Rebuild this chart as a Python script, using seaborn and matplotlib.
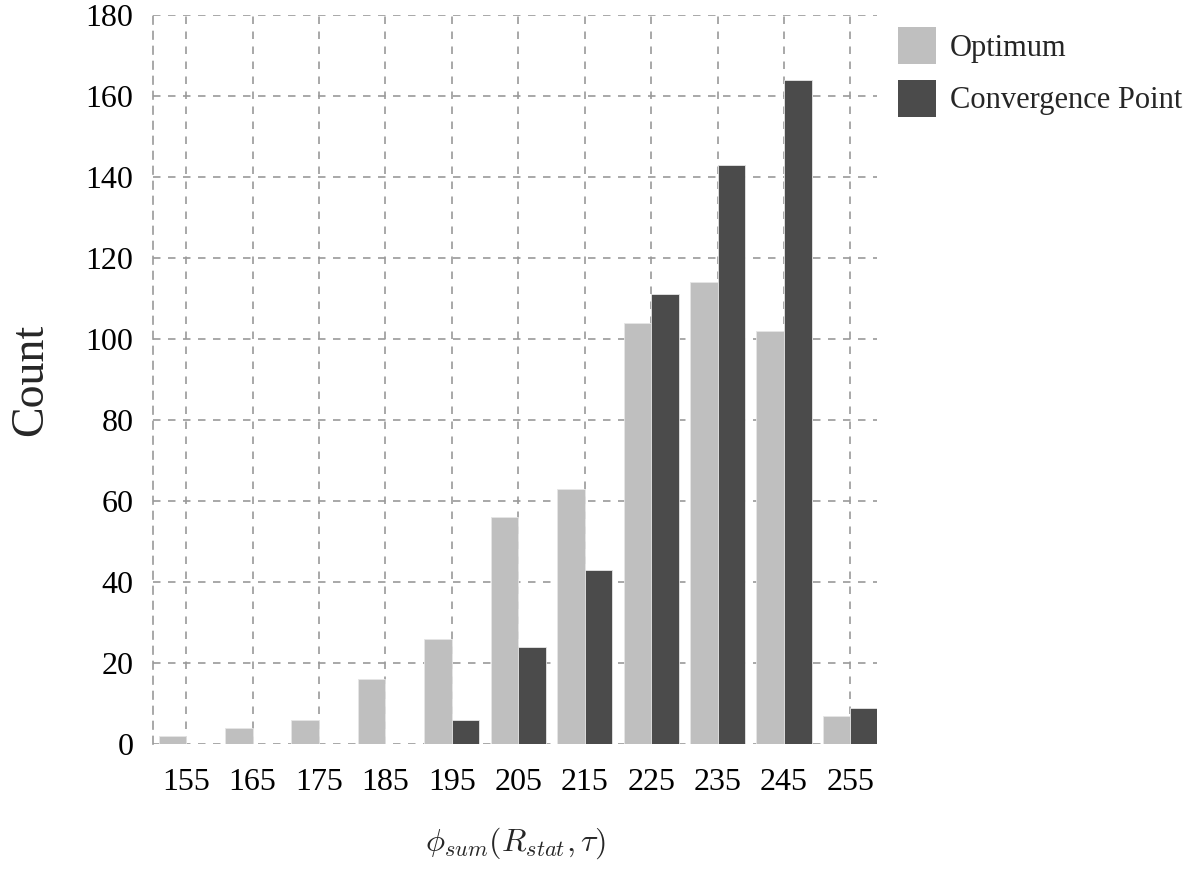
import matplotlib
matplotlib.use("Agg")
import matplotlib.pyplot as plt
import seaborn as sns
import pandas as pd

categories = ["155", "165", "175", "185", "195", "205", "215", "225", "235", "245", "255"]
optimum = [2, 4, 6, 16, 26, 56, 63, 104, 114, 102, 7]
convergence = [0, 0, 0, 0, 6, 24, 43, 111, 143, 164, 9]
series_names = ["Optimum", "Convergence Point"]
y_ticks = [0, 20, 40, 60, 80, 100, 120, 140, 160, 180]

df = pd.DataFrame({
    "bin": categories * 2,
    "count": optimum + convergence,
    "series": [series_names[0]] * len(categories) + [series_names[1]] * len(categories),
})

sns.set_theme(style="white")
plt.rcParams["font.family"] = ["Liberation Serif", "DejaVu Serif"]
plt.rcParams["mathtext.fontset"] = "cm"

fig = plt.figure(figsize=(12.03, 8.75), dpi=100)
ax = fig.add_axes([153 / 1203, 1 - 744 / 875, (877 - 153) / 1203, (744 - 15) / 875])

sns.barplot(data=df, x="bin", y="count", hue="series", order=categories,
            hue_order=series_names, palette=["#bfbfbf", "#4b4b4b"],
            width=0.83, edgecolor="#e6e6e6", linewidth=0.6, ax=ax, zorder=3)

ax.set_xlim(-0.5, len(categories) - 0.6)
ax.set_ylim(0, 180)
ax.set_yticks(y_ticks)
ax.set_axisbelow(True)
ax.grid(True, which="major", axis="both", color="#9a9a9a", linewidth=1.2,
        linestyle=(0, (4.5, 4.5)), zorder=0)

for s in ["top", "right", "bottom"]:
    ax.spines[s].set_visible(False)
ax.spines["left"].set_visible(True)
ax.spines["left"].set_color("#9a9a9a")
ax.spines["left"].set_linewidth(1.2)
ax.spines["left"].set_linestyle((0, (4.5, 4.5)))

ax.tick_params(axis="both", length=0, labelsize=23, colors="black")
ax.tick_params(axis="y", pad=14)
ax.tick_params(axis="x", pad=17)

ax.set_ylabel("Count", fontsize=33, labelpad=24)
ax.set_xlabel(r"$\phi_{sum}(R_{stat},\tau)$", fontsize=23, labelpad=21)

leg = ax.legend(loc="upper left", bbox_to_anchor=(1.0, 1.012), frameon=False,
                fontsize=22, handlelength=1.25, handleheight=1.5,
                handletextpad=0.45, labelspacing=0.5, borderaxespad=0.4,
                borderpad=0.28)
for h in leg.legend_handles:
    h.set_edgecolor("none")

fig.savefig("out.png", dpi=100)
